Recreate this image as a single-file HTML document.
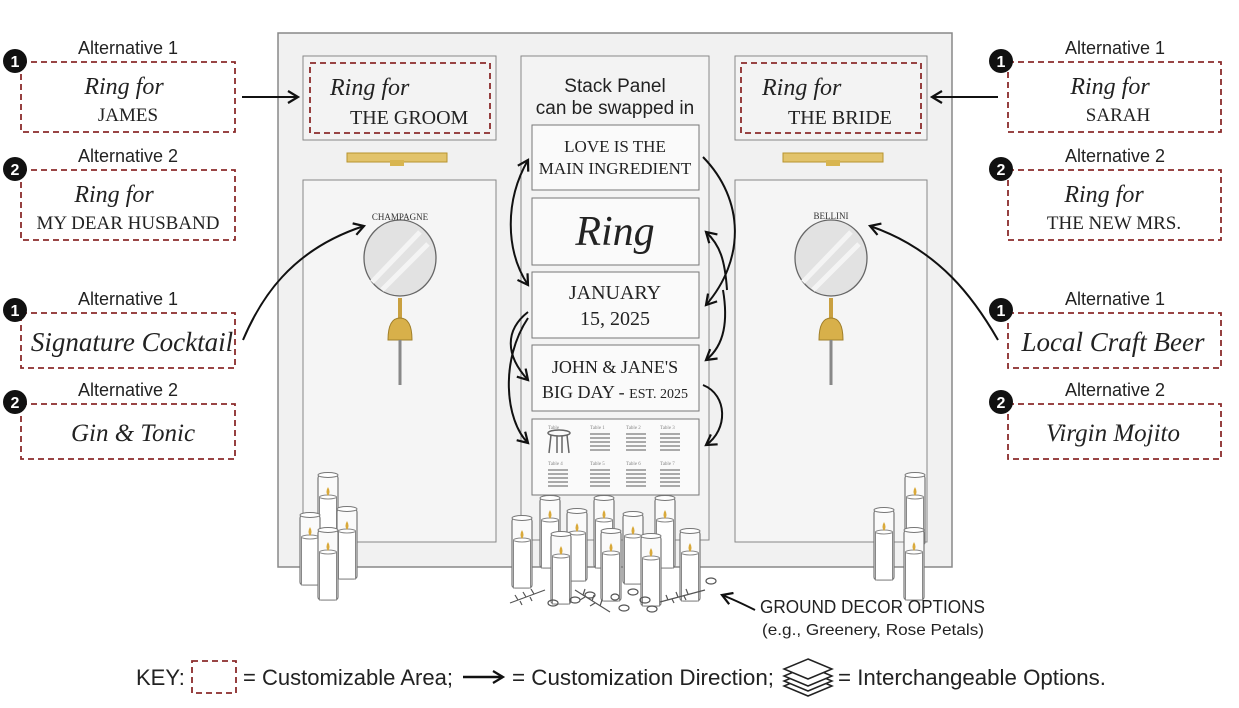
<!DOCTYPE html>
<html><head><meta charset="utf-8"><style>
html,body{margin:0;padding:0;background:#fff;}
svg{display:block;}
.sans{font-family:"Liberation Sans Narrow","Liberation Sans",sans-serif;}
.serif{font-family:"Liberation Serif",serif;}
.scr{font-family:"Liberation Serif",serif;font-style:italic;}
</style></head><body>
<svg width="1239" height="708" viewBox="0 0 1239 708" xmlns="http://www.w3.org/2000/svg">
<defs>
<marker id="ah" markerWidth="14" markerHeight="14" refX="11" refY="7" orient="auto-start-reverse" markerUnits="userSpaceOnUse">
<path d="M1,1 L11,7 L1,13" fill="none" stroke="#111" stroke-width="2.2"/>
</marker>
<g id="candle">
<rect x="0" y="0" width="20" height="70" rx="3" fill="#fafafa" stroke="#777" stroke-width="1.2"/>
<ellipse cx="10" cy="0" rx="10" ry="2.5" fill="#fff" stroke="#777"/>
<rect x="1.5" y="22" width="17" height="48" fill="#fff" stroke="#888" stroke-width="1"/>
<ellipse cx="10" cy="22" rx="8.5" ry="2" fill="#fff" stroke="#888"/>
<path d="M10,12 q3,5 0,9 q-3,-4 0,-9z" fill="#d9a93a"/>
</g>
</defs>
<rect width="1239" height="708" fill="#fff"/>

<!-- backdrop -->
<rect x="278" y="33" width="674" height="534" fill="#f1f1f1" stroke="#888" stroke-width="1.5"/>
<rect x="303" y="56" width="193" height="84" fill="#f3f3f3" stroke="#888"/>
<rect x="310" y="63" width="180" height="70" fill="none" stroke="#8b2b2b" stroke-width="1.8" stroke-dasharray="6,4"/>
<text x="330" y="95" class="scr" font-size="24" fill="#222">Ring for</text>
<text x="350" y="124" class="serif" font-size="20" fill="#222">THE GROOM</text>

<rect x="735" y="56" width="192" height="84" fill="#f3f3f3" stroke="#888"/>
<rect x="741" y="63" width="180" height="70" fill="none" stroke="#8b2b2b" stroke-width="1.8" stroke-dasharray="6,4"/>
<text x="762" y="95" class="scr" font-size="24" fill="#222">Ring for</text>
<text x="788" y="124" class="serif" font-size="20" fill="#222">THE BRIDE</text>

<!-- gold bars -->
<rect x="347" y="153" width="100" height="9" fill="#e2c36b" stroke="#b8942f"/>
<rect x="390" y="160" width="14" height="6" fill="#d8b550"/>
<rect x="783" y="153" width="100" height="9" fill="#e2c36b" stroke="#b8942f"/>
<rect x="826" y="160" width="14" height="6" fill="#d8b550"/>

<!-- lower panels -->
<rect x="303" y="180" width="193" height="362" fill="#f5f5f5" stroke="#888"/>
<rect x="735" y="180" width="192" height="362" fill="#f5f5f5" stroke="#888"/>

<!-- mirrors -->
<ellipse cx="400" cy="258" rx="36" ry="38" fill="#e2e2e2" stroke="#666" stroke-width="1.3"/>
<path d="M372,282 L420,232 M382,290 L428,244" stroke="#f4f4f4" stroke-width="5"/>
<text x="400" y="220" class="serif" font-size="9" text-anchor="middle" fill="#333">CHAMPAGNE</text>
<ellipse cx="831" cy="258" rx="36" ry="38" fill="#e2e2e2" stroke="#666" stroke-width="1.3"/>
<path d="M803,282 L851,232 M813,290 L859,244" stroke="#f4f4f4" stroke-width="5"/>
<text x="831" y="219" class="serif" font-size="9" text-anchor="middle" fill="#333">BELLINI</text>

<!-- bells -->
<g>
<rect x="398" y="298" width="4" height="20" fill="#c9a040"/>
<path d="M388,340 q0,-22 12,-22 q12,0 12,22 z" fill="#d8b04a" stroke="#a07f2a"/>
<line x1="400" y1="340" x2="400" y2="385" stroke="#888" stroke-width="3"/>
</g>
<g>
<rect x="829" y="298" width="4" height="20" fill="#c9a040"/>
<path d="M819,340 q0,-22 12,-22 q12,0 12,22 z" fill="#d8b04a" stroke="#a07f2a"/>
<line x1="831" y1="340" x2="831" y2="385" stroke="#888" stroke-width="3"/>
</g>

<!-- center panel -->
<rect x="521" y="56" width="188" height="484" fill="#f3f3f3" stroke="#888"/>
<text x="615" y="92" class="sans" font-size="19" text-anchor="middle" fill="#222">Stack Panel</text>
<text x="615" y="114" class="sans" font-size="19" text-anchor="middle" fill="#222">can be swapped in</text>
<rect x="532" y="125" width="167" height="65" fill="#fafafa" stroke="#777"/>
<text x="615" y="152" class="serif" font-size="17" text-anchor="middle" fill="#222">LOVE IS THE</text>
<text x="615" y="174" class="serif" font-size="17" text-anchor="middle" fill="#222">MAIN INGREDIENT</text>
<rect x="532" y="198" width="167" height="67" fill="#fafafa" stroke="#777"/>
<text x="615" y="245" class="scr" font-size="42" text-anchor="middle" fill="#222">Ring</text>
<rect x="532" y="272" width="167" height="66" fill="#fafafa" stroke="#777"/>
<text x="615" y="299" class="serif" font-size="20" text-anchor="middle" fill="#222">JANUARY</text>
<text x="615" y="325" class="serif" font-size="20" text-anchor="middle" fill="#222">15, 2025</text>
<rect x="532" y="345" width="167" height="66" fill="#fafafa" stroke="#777"/>
<text x="615" y="373" class="serif" font-size="18" text-anchor="middle" fill="#222">JOHN &amp; JANE'S</text>
<text x="615" y="398" class="serif" font-size="18" text-anchor="middle" fill="#222">BIG DAY - <tspan font-size="14">EST. 2025</tspan></text>
<rect x="532" y="419" width="167" height="76" fill="#fafafa" stroke="#777"/>
<g fill="#888" font-size="5" class="serif">
<text x="548" y="429">Table</text><text x="590" y="429">Table 1</text><text x="626" y="429">Table 2</text><text x="660" y="429">Table 3</text>
<text x="548" y="465">Table 4</text><text x="590" y="465">Table 5</text><text x="626" y="465">Table 6</text><text x="660" y="465">Table 7</text>
</g>
<g stroke="#aaa" stroke-width="2">
<path d="M590,434h20M590,438h20M590,442h20M590,446h20M590,450h20M626,434h20M626,438h20M626,442h20M626,446h20M626,450h20M660,434h20M660,438h20M660,442h20M660,446h20M660,450h20"/>
<path d="M548,470h20M548,474h20M548,478h20M548,482h20M548,486h20M590,470h20M590,474h20M590,478h20M590,482h20M590,486h20M626,470h20M626,474h20M626,478h20M626,482h20M626,486h20M660,470h20M660,474h20M660,478h20M660,482h20M660,486h20"/>
</g>
<ellipse cx="559" cy="433" rx="11" ry="3" fill="none" stroke="#666" stroke-width="1.5"/>
<path d="M551,435 L549,453 M567,435 L569,453 M557,436 L557,453 M562,436 L562,453" stroke="#666" stroke-width="1.5"/>

<!-- stack arrows -->
<g fill="none" stroke="#111" stroke-width="2">
<path d="M528,160 C505,200 505,250 528,285" marker-start="url(#ah)" marker-end="url(#ah)"/>
<path d="M703,157 C745,200 745,260 706,305" marker-end="url(#ah)"/>
<path d="M727,290 C725,260 720,245 706,232" marker-end="url(#ah)"/>
<path d="M723,290 C728,320 725,345 706,360" marker-end="url(#ah)"/>
<path d="M528,312 C505,330 505,355 528,380" marker-end="url(#ah)"/>
<path d="M528,318 C500,360 505,420 528,443" marker-end="url(#ah)"/>
<path d="M703,385 C728,395 728,430 706,445" marker-end="url(#ah)"/>
</g>

<!-- candles left -->
<use href="#candle" x="318" y="475"/>
<use href="#candle" x="300" y="515"/>
<use href="#candle" x="337" y="509"/>
<use href="#candle" x="318" y="530"/>
<!-- candles center -->
<use href="#candle" x="540" y="498"/>
<use href="#candle" x="594" y="498"/>
<use href="#candle" x="655" y="498"/>
<use href="#candle" x="567" y="511"/>
<use href="#candle" x="623" y="514"/>
<use href="#candle" x="512" y="518"/>
<use href="#candle" x="551" y="534"/>
<use href="#candle" x="601" y="531"/>
<use href="#candle" x="641" y="536"/>
<use href="#candle" x="680" y="531"/>
<!-- candles right -->
<use href="#candle" x="905" y="475"/>
<use href="#candle" x="874" y="510"/>
<use href="#candle" x="904" y="530"/>

<!-- ground decor -->
<g fill="none" stroke="#555" stroke-width="1.2">
<path d="M510,603 L545,590 M518,600 l-3,-5 M526,597 l-3,-5 M534,594 l-3,-5 M520,601 l2,4 M530,597 l2,4"/>
<path d="M575,590 L610,612 M583,595 l2,-6 M592,601 l2,-6 M600,606 l2,-6 M585,597 l-5,3 M595,603 l-5,3"/>
<path d="M660,602 L705,590 M668,600 l-2,-5 M678,597 l-2,-5 M688,594 l-2,-5 M672,599 l2,4 M684,596 l2,4"/>
<ellipse cx="553" cy="603" rx="5" ry="3"/><ellipse cx="575" cy="600" rx="5" ry="3"/><ellipse cx="590" cy="595" rx="5" ry="3"/>
<ellipse cx="633" cy="592" rx="5" ry="3"/><ellipse cx="645" cy="600" rx="5" ry="3"/><ellipse cx="652" cy="609" rx="5" ry="3"/>
<ellipse cx="624" cy="608" rx="5" ry="3"/><ellipse cx="711" cy="581" rx="5" ry="3"/><ellipse cx="615" cy="597" rx="4" ry="3"/>
</g>
<path d="M755,610 C745,605 735,600 722,595" fill="none" stroke="#111" stroke-width="2" marker-end="url(#ah)"/>
<text x="760" y="613" class="sans" font-size="18" fill="#222" textLength="225" lengthAdjust="spacingAndGlyphs">GROUND DECOR OPTIONS</text>
<text x="762" y="635" class="sans" font-size="16" fill="#222" textLength="222" lengthAdjust="spacingAndGlyphs">(e.g., Greenery, Rose Petals)</text>

<!-- left/right callouts -->
<g class="sans" font-size="18" fill="#222" text-anchor="middle">
<text x="128" y="54">Alternative 1</text>
<text x="128" y="162">Alternative 2</text>
<text x="128" y="305">Alternative 1</text>
<text x="128" y="396">Alternative 2</text>
<text x="1115" y="54">Alternative 1</text>
<text x="1115" y="162">Alternative 2</text>
<text x="1115" y="305">Alternative 1</text>
<text x="1115" y="396">Alternative 2</text>
</g>
<g fill="none" stroke="#8b2b2b" stroke-width="1.8" stroke-dasharray="6,4">
<rect x="21" y="62" width="214" height="70"/>
<rect x="21" y="170" width="214" height="70"/>
<rect x="21" y="313" width="214" height="55"/>
<rect x="21" y="404" width="214" height="55"/>
<rect x="1008" y="62" width="213" height="70"/>
<rect x="1008" y="170" width="213" height="70"/>
<rect x="1008" y="313" width="213" height="55"/>
<rect x="1008" y="404" width="213" height="55"/>
</g>
<g text-anchor="middle" fill="#222">
<text x="124" y="94" class="scr" font-size="24">Ring for</text>
<text x="128" y="121" class="serif" font-size="19">JAMES</text>
<text x="114" y="202" class="scr" font-size="24">Ring for</text>
<text x="128" y="229" class="serif" font-size="19">MY DEAR HUSBAND</text>
<text x="132" y="351" class="scr" font-size="27">Signature Cocktail</text>
<text x="133" y="441" class="scr" font-size="25">Gin &amp; Tonic</text>
<text x="1110" y="94" class="scr" font-size="24">Ring for</text>
<text x="1118" y="121" class="serif" font-size="19">SARAH</text>
<text x="1104" y="202" class="scr" font-size="24">Ring for</text>
<text x="1114" y="229" class="serif" font-size="19">THE NEW MRS.</text>
<text x="1113" y="351" class="scr" font-size="27">Local Craft Beer</text>
<text x="1113" y="441" class="scr" font-size="25">Virgin Mojito</text>
</g>
<g>
<circle cx="15" cy="61" r="12" fill="#111"/><circle cx="15" cy="169" r="12" fill="#111"/>
<circle cx="15" cy="310" r="12" fill="#111"/><circle cx="15" cy="402" r="12" fill="#111"/>
<circle cx="1001" cy="61" r="12" fill="#111"/><circle cx="1001" cy="169" r="12" fill="#111"/>
<circle cx="1001" cy="310" r="12" fill="#111"/><circle cx="1001" cy="402" r="12" fill="#111"/>
</g>
<g class="sans" font-size="16" font-weight="bold" fill="#fff" text-anchor="middle">
<text x="15" y="67">1</text><text x="15" y="175">2</text><text x="15" y="316">1</text><text x="15" y="408">2</text>
<text x="1001" y="67">1</text><text x="1001" y="175">2</text><text x="1001" y="316">1</text><text x="1001" y="408">2</text>
</g>

<!-- callout arrows -->
<g fill="none" stroke="#111" stroke-width="2">
<path d="M242,97 L298,97" marker-end="url(#ah)"/>
<path d="M998,97 L932,97" marker-end="url(#ah)"/>
<path d="M243,340 C260,300 290,250 364,226" marker-end="url(#ah)"/>
<path d="M998,340 C975,300 940,250 870,226" marker-end="url(#ah)"/>
</g>

<!-- key -->
<text x="136" y="685" class="sans" font-size="22" fill="#222">KEY:</text>
<rect x="192" y="661" width="44" height="32" fill="none" stroke="#8b2b2b" stroke-width="1.8" stroke-dasharray="6,4"/>
<text x="243" y="685" class="sans" font-size="22" fill="#222" textLength="210" lengthAdjust="spacingAndGlyphs">= Customizable Area;</text>
<path d="M463,677 L503,677" stroke="#111" stroke-width="2.5" marker-end="url(#ah)"/>
<text x="512" y="685" class="sans" font-size="22" fill="#222" textLength="262" lengthAdjust="spacingAndGlyphs">= Customization Direction;</text>
<g fill="#fff" stroke="#222" stroke-width="1.5">
<path d="M808,676 l24,10 l-24,10 l-24,-10z"/>
<path d="M808,671 l24,10 l-24,10 l-24,-10z"/>
<path d="M808,666 l24,10 l-24,10 l-24,-10z"/>
<path d="M808,659 l24,10 l-24,10 l-24,-10z"/>
</g>
<text x="838" y="685" class="sans" font-size="22" fill="#222" textLength="268" lengthAdjust="spacingAndGlyphs">= Interchangeable Options.</text>
</svg>
</body></html>
